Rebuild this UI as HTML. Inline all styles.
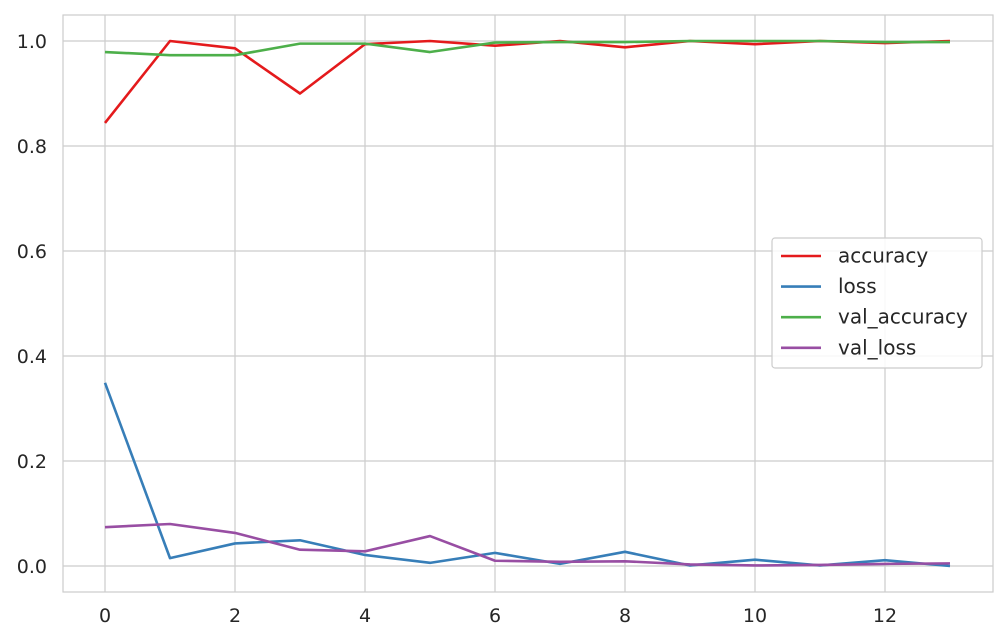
<!DOCTYPE html>
<html><head><meta charset="utf-8"><style>
body{margin:0;background:#fff;}
svg{display:block;font-family:"DejaVu Sans","Liberation Sans",sans-serif;}
</style></head><body>
<svg id="chart" width="1007" height="642" viewBox="0 0 1007 642"></svg>
<script>
const epochs=[0,1,2,3,4,5,6,7,8,9,10,11,12,13];
const accuracy=[0.844,1.0,0.986,0.90,0.994,1.0,0.991,1.0,0.988,1.0,0.994,1.0,0.996,1.0];
const loss=[0.349,0.015,0.043,0.049,0.021,0.006,0.025,0.004,0.027,0.001,0.012,0.001,0.011,0.0];
const valAccuracy=[0.979,0.973,0.973,0.995,0.995,0.979,0.997,0.998,0.998,1.0,1.0,1.0,0.998,0.998];
const valLoss=[0.074,0.080,0.063,0.031,0.028,0.057,0.010,0.008,0.009,0.003,0.001,0.002,0.004,0.005];
const xTicks=[0,2,4,6,8,10,12];
const yTicks=[0.0,0.2,0.4,0.6,0.8,1.0];
const seriesNames=["accuracy","loss","val_accuracy","val_loss"];
const seriesColors=["#e41a1c","#377eb8","#4daf4a","#984ea3"];
const seriesData=[accuracy,loss,valAccuracy,valLoss];

const svg=document.getElementById('chart');
const NS='http://www.w3.org/2000/svg';
const L=63,R=993,T=15,B=592;
const xs=v=>105+(v-0)*65;
const ys=v=>566-v*525;
function mk(tag,attrs,parent){const e=document.createElementNS(NS,tag);for(const k in attrs)e.setAttribute(k,attrs[k]);(parent||svg).appendChild(e);return e;}

const grid=mk('g',{});


xTicks.forEach(t=>{
  const l=mk('line',{x1:xs(t),x2:xs(t),y1:T,y2:B,stroke:'#cccccc','stroke-width':1.2},grid);
  
  
  const tx=mk('text',{x:xs(t),y:B+30,'text-anchor':'middle','font-size':19,fill:'#262626'});
  tx.textContent=t;
  
  
});
yTicks.forEach(t=>{
  const l=mk('line',{x1:L,x2:R,y1:ys(t),y2:ys(t),stroke:'#cccccc','stroke-width':1.2},grid);
  
  
  const tx=mk('text',{x:L-16,y:ys(t)+7,'text-anchor':'end','font-size':19,fill:'#262626'});
  tx.textContent=t.toFixed(1);
  
  
});
const frame=mk('rect',{x:L,y:T,width:R-L,height:B-T,fill:'none',stroke:'#cccccc','stroke-width':1.2});



seriesData.forEach((d,i)=>{
  const p=mk('polyline',{points:d.map((v,j)=>xs(epochs[j])+','+ys(v)).join(' '),fill:'none',stroke:seriesColors[i],'stroke-width':2.6,'stroke-linejoin':'round'});
  
  
});

const lg=mk('g',{});


mk('rect',{x:772,y:238,width:210,height:130,rx:3,fill:'#fff','fill-opacity':0.85,stroke:'#cccccc','stroke-width':1.2},lg);
seriesNames.forEach((n,i)=>{
  const y=256+i*30.6;
  const e=mk('g',{},lg);
  
  
  mk('line',{x1:781,x2:821,y1:y,y2:y,stroke:seriesColors[i],'stroke-width':2.6},e);
  const t=mk('text',{x:838,y:y+6.5,'font-size':20,fill:'#262626'},e);
  t.textContent=n;
});
</script>
</body></html>
